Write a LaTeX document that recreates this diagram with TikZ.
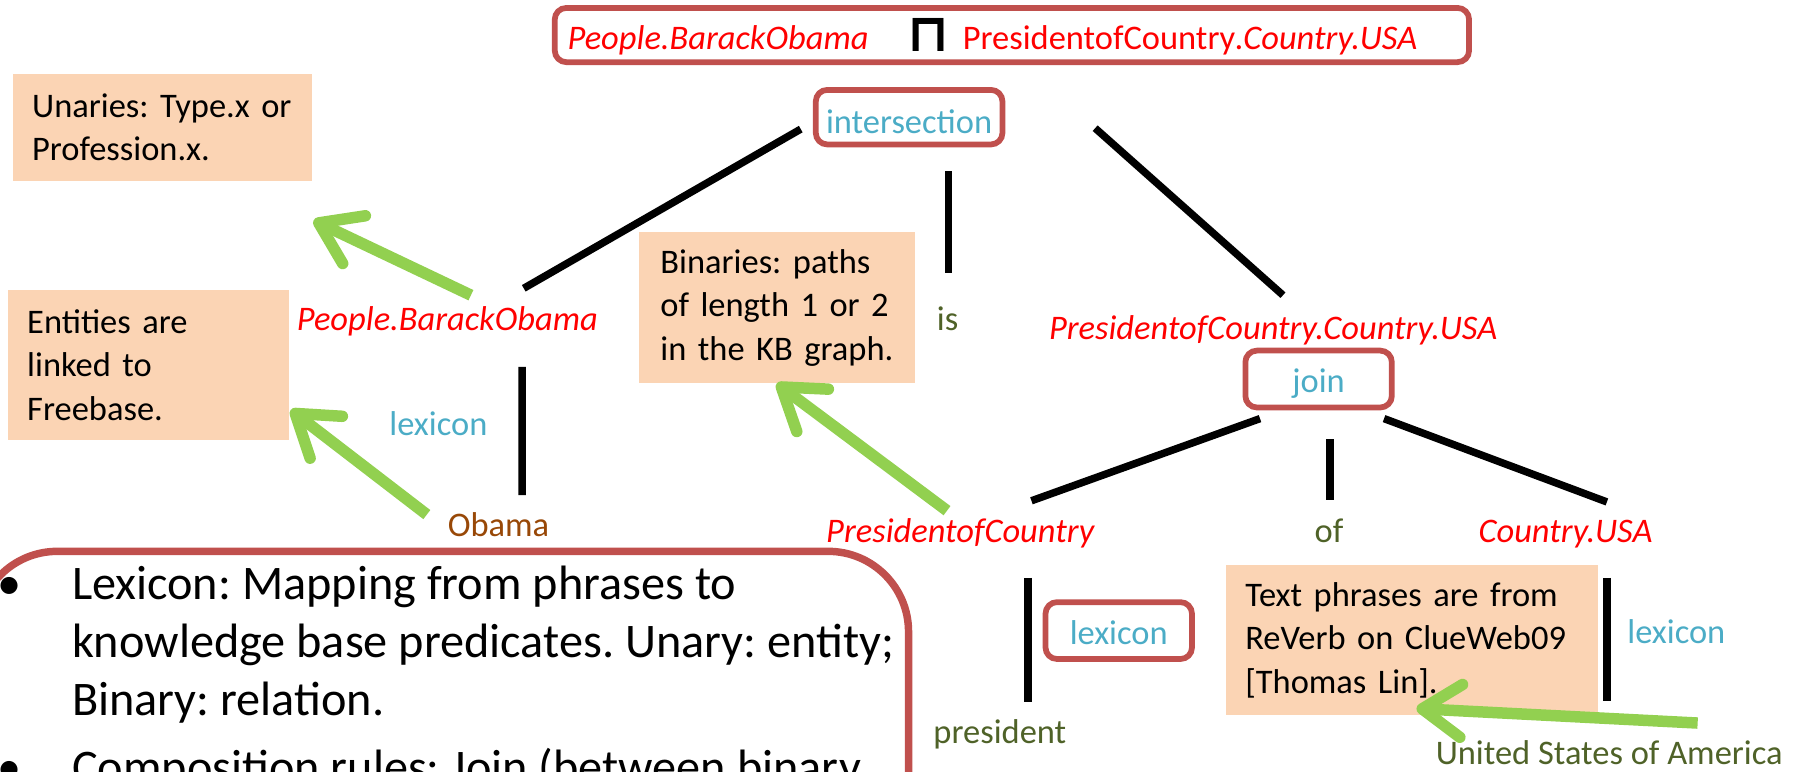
\documentclass[tikz,border=0pt]{standalone}
\usepackage{fontspec}
\setmainfont{Carlito}
\newfontfamily\opfont{DejaVu Sans Bold}
\usetikzlibrary{arrows.meta,calc}

\definecolor{boxred}{RGB}{192,80,77}
\definecolor{kbred}{RGB}{255,0,0}
\definecolor{ruleblue}{RGB}{75,172,198}
\definecolor{wordgreen}{RGB}{79,98,40}
\definecolor{obamabrown}{RGB}{152,72,7}
\definecolor{notefill}{RGB}{251,212,180}
\definecolor{arrowgreen}{RGB}{146,208,80}

\frenchspacing
\begin{document}
\begin{tikzpicture}[x=1pt,y=-1pt,
  lbl/.style={inner sep=0pt, anchor=base, font=\fontsize{30}{36}\selectfont},
  kb/.style={lbl, text=kbred, font=\fontsize{30}{36}\selectfont\itshape},
  opname/.style={lbl, text=ruleblue},
  word/.style={lbl, text=wordgreen},
  rulebox/.style={draw=boxred, line width=5pt, rounded corners=10pt, inner sep=0pt,
    text=ruleblue, font=\fontsize{30}{36}\selectfont, text depth=0pt},
  note/.style={fill=notefill, anchor=north west, inner ysep=0pt, align=left,
    font=\fontsize{30}{38}\selectfont},
  bigtext/.style={inner sep=0pt, font=\fontsize{42}{50.3}\selectfont},
  tree/.style={line width=6.5pt},
  hint/.style={draw=arrowgreen, line width=10pt,
    -{Straight Barb[length=34pt,width=46pt,round]}}]

\useasboundingbox (0,0) rectangle (1568,672);
\clip (0,0) rectangle (1568,672);

% logical form at the top
\node[rulebox, minimum width=796pt, minimum height=47.2pt] (formula) at (881,30.5) {};
\node[kb, anchor=base west] (lhs) at (494,43.5) {People.BarackObama};
\node[inner sep=0pt, font=\fontsize{46}{46}\selectfont\opfont] (meet) at (808,30.5) {⊓};
\node[lbl, text=kbred, anchor=base west] (rhs) at (838,43.5) {PresidentofCountry{\itshape .Country.USA}};

% derivation tree
\node[rulebox, minimum width=162.5pt, minimum height=47.5pt, text height=28pt] (inter) at (791.5,102) {intersection};
\node[kb] (pbo) at (389.5,288) {People.BarackObama};
\node[word] (is) at (825,288) {is};
\node[kb] (pcu) at (1108.5,296) {PresidentofCountry.Country.USA};
\node[rulebox, minimum width=127.5pt, minimum height=49.5pt, text height=24pt] (join) at (1148,330) {join};
\node[kb] (poc) at (836,472) {PresidentofCountry};
\node[word] (of) at (1157,472) {of};
\node[kb] (cusa) at (1363,472) {Country.USA};
\node[opname] (lexl) at (381.7,379) {lexicon};
\node[lbl, text=obamabrown] (obama) at (434,467.5) {Obama};
\node[rulebox, minimum width=127.5pt, minimum height=49.5pt, text height=25pt] (lexbox) at (974,549) {lexicon};
\node[word] (pres) at (870.5,647) {president};
\node[opname] (lexr) at (1459.5,560) {lexicon};
\node[word] (usa) at (1401,666) {United States of America};

\draw[tree] ($(inter.west)+(-10.6,10.4)$) -- ($(pbo.base)+(66.5,-37)$);
\draw[tree] ($(inter.south)+(34.5,20.8)$) -- ($(is.base)+(1,-50)$);
\draw[tree] ($(inter.east)+(78.2,9.6)$) -- ($(pcu.base)+(8.5,-39)$);
\draw[tree] ($(join.south)+(-51,7.2)$) -- ($(poc.base)+(62,-36)$);
\draw[tree] ($(join.south)+(10,25.2)$) -- ($(of.base)+(1,-37)$);
\draw[tree] ($(join.south)+(57,7.2)$) -- ($(cusa.base)+(36,-35)$);
\draw[tree] ($(pbo.base)+(65,31.5)$) -- ($(obama.base)+(20.6,-36.5)$);
\draw[tree] ($(poc.base)+(59,31)$) -- ($(pres.base)+(24.5,-36)$);
\draw[tree] ($(cusa.base)+(36,31)$) -- ($(usa.base)+(-2,-56)$);

% explanatory notes
\node[note, text width=226.2pt, inner xsep=17pt, minimum height=92.6pt] (unary) at (10.8,64.4)
  {\mbox{Unaries: Type.x or}\\\mbox{Profession.x.}};
\node[note, text width=210.5pt, inner xsep=17pt, minimum height=131pt] (entities) at (6.5,252)
  {\mbox{Entities are}\\\mbox{linked to}\\\mbox{Freebase.}};
\node[note, text width=202.4pt, inner xsep=18.8pt, minimum height=131.5pt] (binaries) at (556,202)
  {\mbox{Binaries: paths}\\\mbox{of length 1 or 2}\\\mbox{in the KB graph.}};
\node[note, text width=290pt, inner xsep=17pt, minimum height=130.5pt] (phrases) at (1067,492)
  {\mbox{Text phrases are from}\\\mbox{ReVerb on ClueWeb09}\\\mbox{[Thomas Lin].}};

\draw[hint] ($(pbo.base)+(20.5,-31)$) -- ($(unary.south east)+(1.6,34.5)$);
\draw[hint] ($(obama.base)+(-62.4,-19.5)$) -- ($(entities.south east)+(1.7,-26.5)$);
\draw[hint] ($(poc.base)+(-11.5,-27.4)$) -- (binaries.south);
\draw[hint] ($(usa.base)+(77,-36.5)$) -- ($(phrases.south)+(4,-6)$);

% summary of lexicon and composition rules
\node[draw=boxred, line width=6.5pt, rounded corners=70pt, minimum width=811pt,
  minimum height=300pt, inner sep=0pt] (summary) at (385.5,630) {};
\node[bigtext, anchor=base] (dot1) at (8,522) {•};
\node[bigtext, anchor=base west, align=left] (lexinfo) at (62.5,622.6)
  {Lexicon: Mapping from phrases to\\knowledge base predicates. Unary: entity;\\Binary: relation.};
\node[bigtext, anchor=base] (dot2) at (8,682) {•};
\node[bigtext, anchor=base west] (compinfo) at (62.5,682) {Composition rules: Join (between binary};
\end{tikzpicture}
\end{document}
